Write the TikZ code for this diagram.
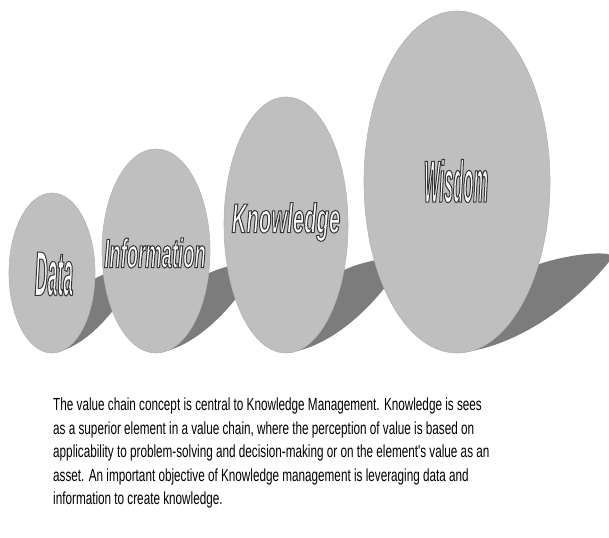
\documentclass[tikz,border=0pt]{standalone}
\usepackage{fontspec}
\usetikzlibrary{shapes.geometric,backgrounds}
\newfontfamily\artfont{Liberation Sans}
\newfontfamily\captionfont{Liberation Sans}[FakeStretch=0.67]
\definecolor{diskgray}{RGB}{191,191,191}
\definecolor{shadowgray}{RGB}{124,124,124}
\tikzset{disk/.style={ellipse,fill=diskgray,draw=diskgray!94!black,line width=0.6pt,inner sep=0pt,outer sep=0pt},
  dropshade/.style={fill=shadowgray},
  artlabel/.style={text=white,inner sep=0pt}}

% word-art text (white face, grey rim): size, stretch, text
\newcommand{\artword}[3]{%
  \artfont\bfseries\itshape\addfontfeature{FakeStretch=#2}\fontsize{#1}{#1}\selectfont
  \special{pdf:literal direct 2 Tr 1 w 0.22 G}#3\special{pdf:literal direct 0 Tr}}
% shadow on the floor: disk bottom, xscale, yscale
\newcommand{\floorshadow}[3]{%
  \fill[dropshade,shift={(#1)},xscale=#2,yscale=#3] (0,0)
    .. controls (60,5) and (120,50) .. (155,95)
    .. controls (160,104) and (100,100) .. (60,80) -- cycle;
}

\begin{document}
\begin{tikzpicture}[x=1pt,y=1pt]
    \useasboundingbox (0,0) rectangle (609,537);

    % Disks
    \node[disk,minimum width=86,minimum height=160] (data) at (52,264) {};
    \node[disk,minimum width=108,minimum height=204] (info) at (156,286) {};
    \node[disk,minimum width=124,minimum height=256] (know) at (286,312) {};
    \node[disk,minimum width=186,minimum height=342] (wisdom) at (457,355) {};

    % Shadows
    \begin{scope}[on background layer]
    \floorshadow{data.south}{0.55}{0.85}
    \floorshadow{info.south}{0.65}{0.9}
    \floorshadow{know.south}{0.75}{0.95}
    \floorshadow{wisdom.south}{1}{1}
    \end{scope}

    % Labels
    \node[artlabel] (datalabel) at (54,263) {\artword{63}{0.28}{Data}};
    \node[artlabel] (infolabel) at (155,284) {\artword{41}{0.45}{Information}};
    \node[artlabel] (knowlabel) at (286,315) {\artword{41.5}{0.49}{Knowledge}};
    \node[artlabel] (wisdomlabel) at (456,356) {\artword{59}{0.28}{Wisdom}};

    % Caption
    \node[anchor=north west,inner sep=0pt,align=left,text=black,
      font=\captionfont\fontsize{17.5}{23.5}\selectfont] (caption) at (53,139)
      {The value chain concept is central to Knowledge Management. Knowledge is sees\\
       as a superior element in a value chain, where the perception of value is based on\\
       applicability to problem-solving and decision-making or on the element's value as an\\
       asset. An important objective of Knowledge management is leveraging data and\\
       information to create knowledge.};
\end{tikzpicture}
\end{document}
